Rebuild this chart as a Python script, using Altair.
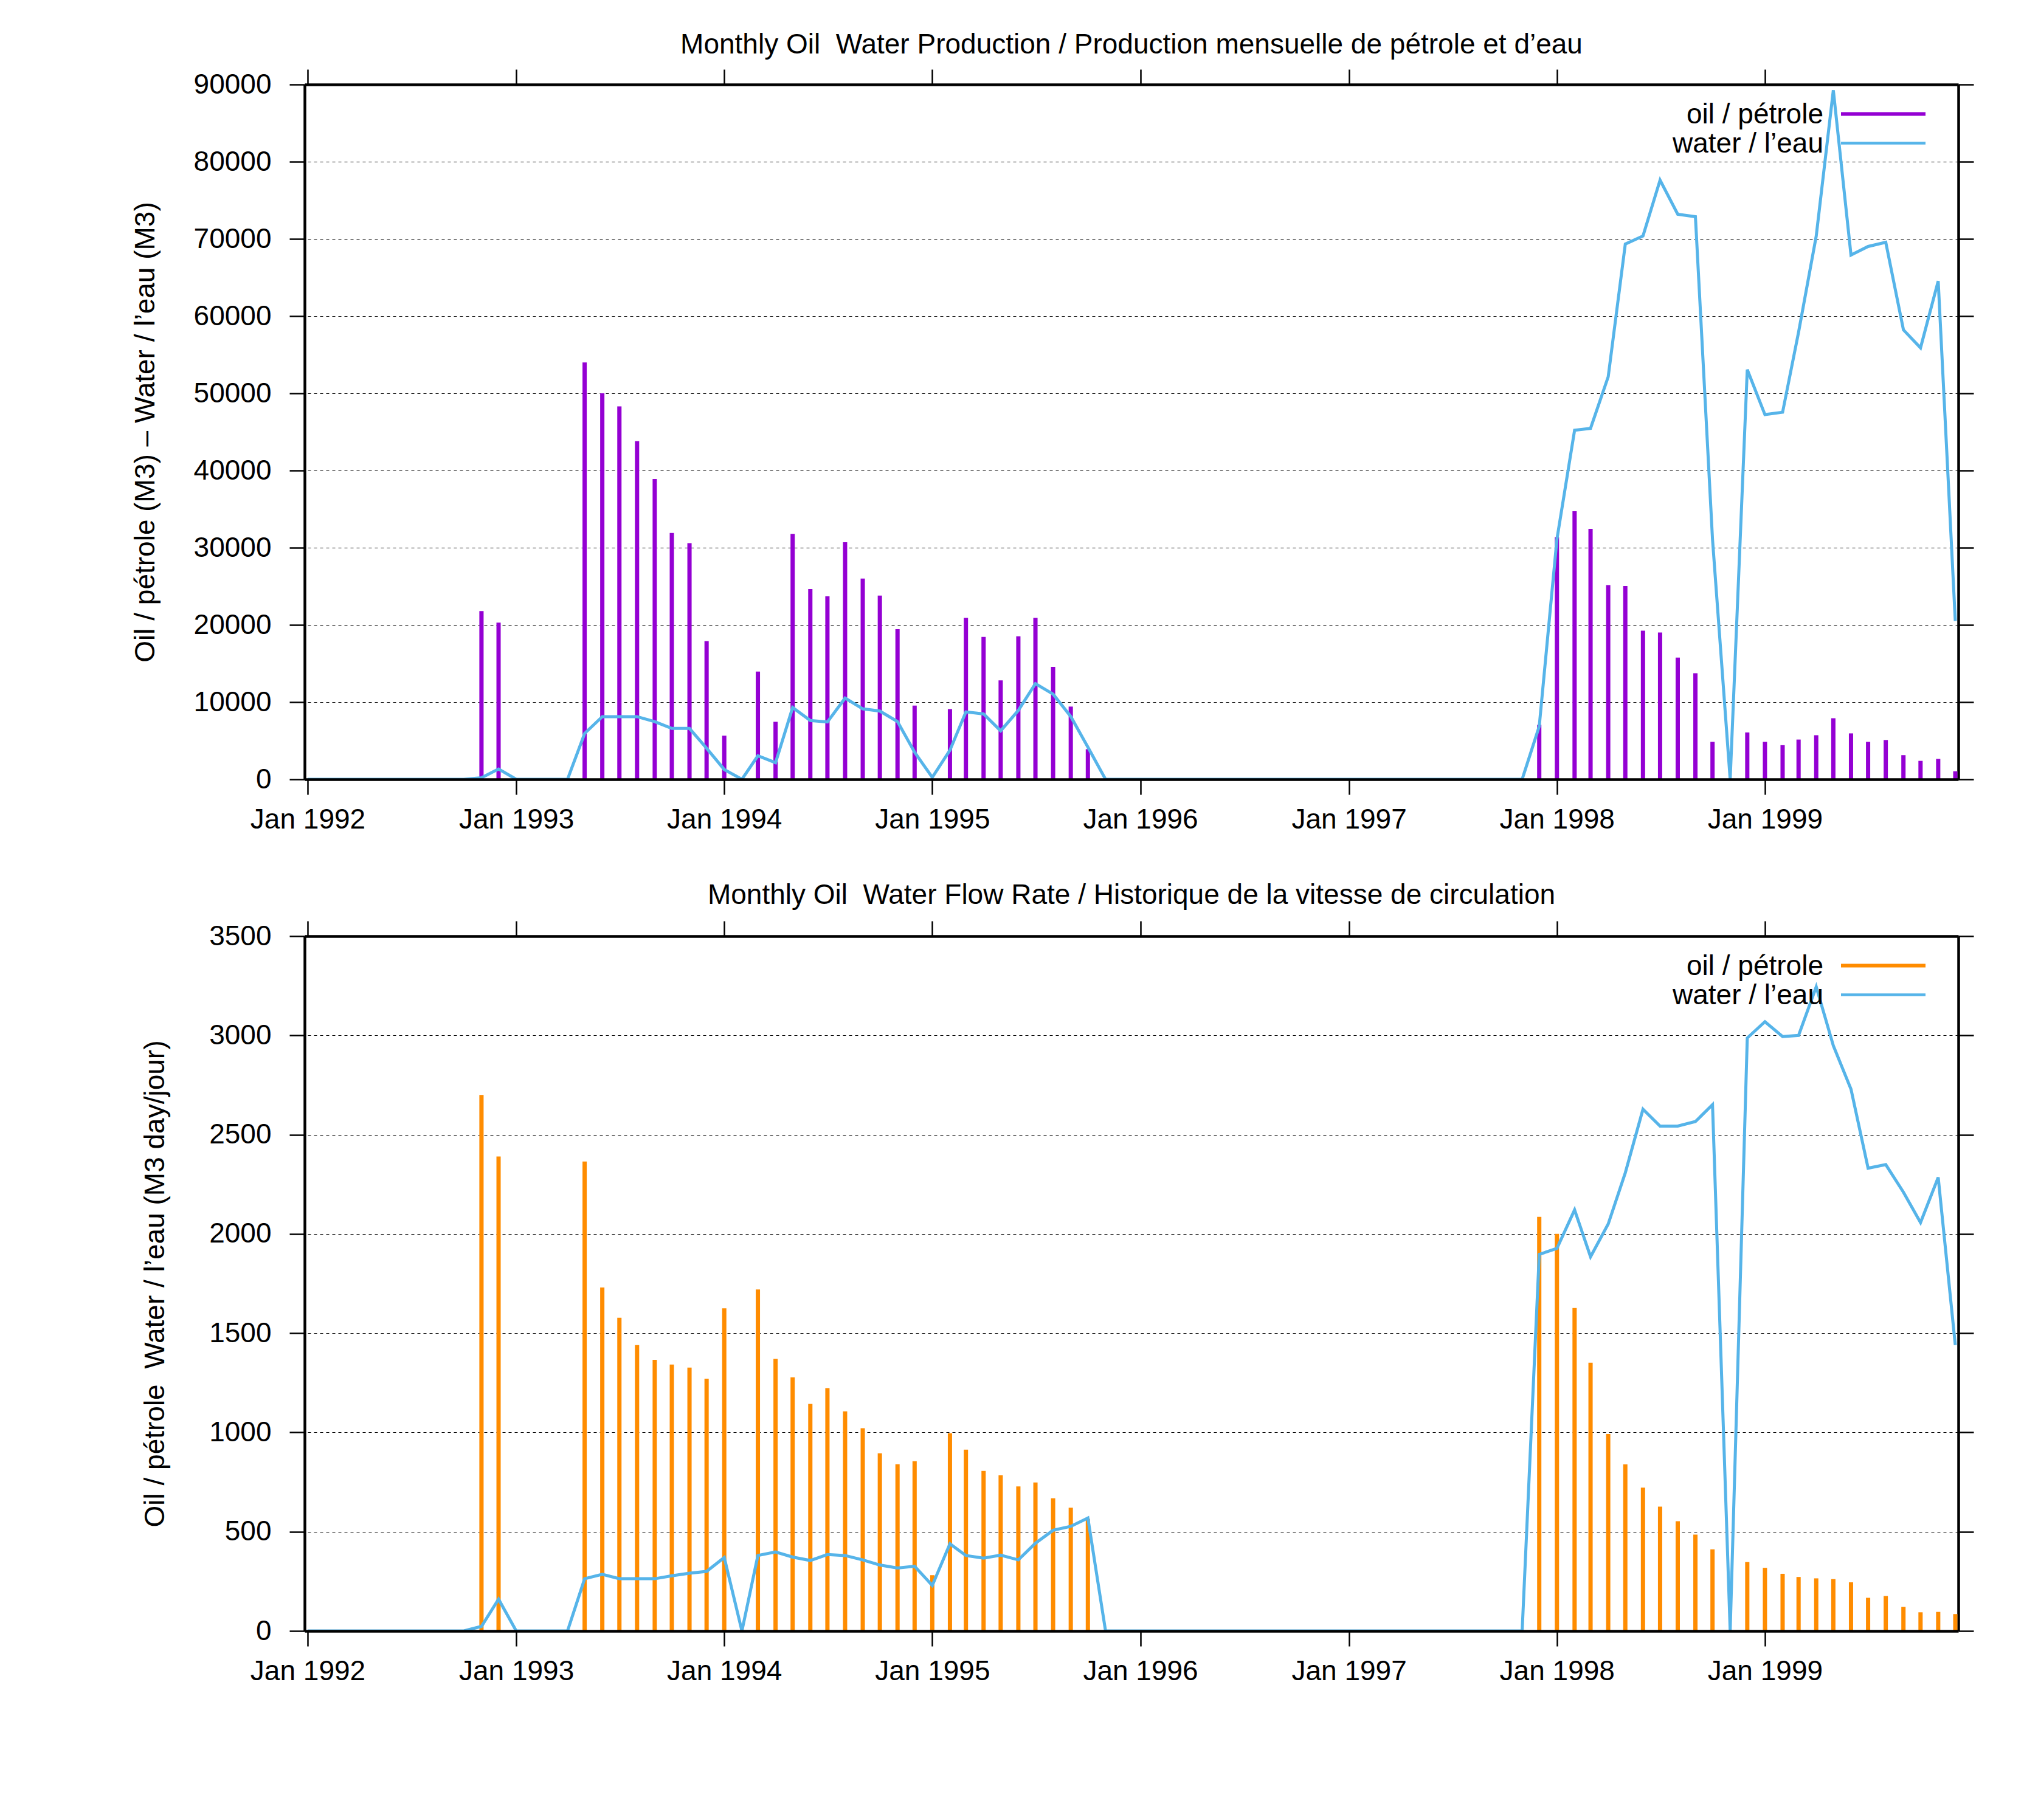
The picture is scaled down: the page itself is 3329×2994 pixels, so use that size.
import altair as alt
import pandas as pd

# ---------------- data (monthly, Jan 1992 .. Dec 1999) ----------------
months = pd.date_range("1992-01-01", periods=96, freq="MS").strftime("%Y-%m-%dT00:00:00").tolist()

oil_prod = (
    [0, 0, 0, 0, 0, 0, 0, 0, 0, 0, 21800, 20300]                                  # 1992
    + [0, 0, 0, 0, 54000, 50000, 48300, 43800, 38900, 31900, 30600, 17900]         # 1993
    + [5650, 0, 13950, 7450, 31800, 24650, 23700, 30700, 26000, 23800, 19450, 9550]  # 1994
    + [0, 9100, 20900, 18440, 12820, 18520, 20900, 14560, 9420, 3900, 0, 0]        # 1995
    + [0, 0, 0, 0, 0, 0, 0, 0, 0, 0, 0, 0]                                         # 1996
    + [0, 0, 0, 0, 0, 0, 0, 0, 0, 0, 0, 7060]                                      # 1997
    + [31350, 34720, 32450, 25150, 25030, 19260, 19020, 15770, 13740, 4850, 0, 6070]  # 1998
    + [4850, 4420, 5150, 5710, 7910, 5950, 4850, 5090, 3130, 2390, 2640, 1040]     # 1999
)

water_prod = (
    [0, 0, 0, 0, 0, 0, 0, 0, 0, 0, 200, 1340]
    + [0, 0, 0, 0, 5940, 8120, 8120, 8120, 7470, 6590, 6590, 4020]
    + [1265, 0, 3050, 2150, 9300, 7620, 7430, 10520, 9130, 8840, 7470, 3510]
    + [250, 3770, 8730, 8470, 6280, 8920, 12400, 11030, 8130, 4170, 0, 0]
    + [0, 0, 0, 0, 0, 0, 0, 0, 0, 0, 0, 0]
    + [0, 0, 0, 0, 0, 0, 0, 0, 0, 0, 0, 6870]
    + [31100, 45210, 45460, 52150, 69330, 70370, 77610, 73190, 72880, 31100, 0, 53070]
    + [47240, 47550, 57910, 70370, 89260, 67910, 69020, 69570, 58220, 55890, 64540, 20500]
)

oil_rate = (
    [0, 0, 0, 0, 0, 0, 0, 0, 0, 0, 2700, 2390]
    + [0, 0, 0, 0, 2365, 1730, 1578, 1440, 1366, 1342, 1327, 1271]
    + [1625, 0, 1720, 1370, 1278, 1144, 1223, 1106, 1021, 895, 840, 855]
    + [281, 996, 913, 806, 784, 728, 748, 668, 621, 565, 0, 0]
    + [0, 0, 0, 0, 0, 0, 0, 0, 0, 0, 0, 0]
    + [0, 0, 0, 0, 0, 0, 0, 0, 0, 0, 0, 2086]
    + [2000, 1627, 1351, 992, 839, 722, 626, 553, 485, 411, 0, 347]
    + [318, 288, 272, 265, 261, 245, 167, 176, 121, 94, 96, 85]
)

water_rate = (
    [0, 0, 0, 0, 0, 0, 0, 0, 0, 0, 23, 160]
    + [0, 0, 0, 0, 263, 285, 263, 263, 263, 278, 291, 300]
    + [370, 0, 380, 398, 372, 355, 385, 380, 358, 332, 317, 326]
    + [229, 439, 380, 367, 382, 358, 442, 507, 527, 569, 0, 0]
    + [0, 0, 0, 0, 0, 0, 0, 0, 0, 0, 0, 0]
    + [0, 0, 0, 0, 0, 0, 0, 0, 0, 0, 0, 1897]
    + [1927, 2121, 1885, 2050, 2308, 2628, 2543, 2543, 2566, 2651, 0, 2987]
    + [3069, 2994, 3000, 3245, 2948, 2729, 2331, 2349, 2210, 2057, 2285, 1440]
)

series_labels = ["oil / pétrole", "water / l\u2019eau"]

title_prod = "Monthly Oil\u00a0 Water Production / Production mensuelle de pétrole et d\u2019eau"
title_rate = "Monthly Oil\u00a0 Water Flow Rate / Historique de la vitesse de circulation"
ytitle_prod = "Oil / pétrole (M3) \u2013 Water / l\u2019eau (M3)"
ytitle_rate = "Oil / pétrole\u00a0 Water / l\u2019eau (M3 day/jour)"

df = pd.DataFrame({
    "date": months,
    "oil_prod": oil_prod,
    "water_prod": water_prod,
    "oil_rate": oil_rate,
    "water_rate": water_rate,
})

# ---------------- styling ----------------
FONT = "Liberation Sans"
FS = 46
W, H = 2720, 1143
PURPLE = "#9400D3"
BLUE = "#56B4E9"
ORANGE = "#FF8C00"

x_domain = [alt.DateTime(year=1992, month=1, date=1), alt.DateTime(year=1999, month=12, date=1)]
year_ticks = [alt.DateTime(year=y, month=1, date=1) for y in range(1992, 2000)]


def panel(oil_field, water_field, oil_color, ymax, ystep, ytitle, title, title_offset, ytitle_pad):
    xscale = alt.Scale(domain=x_domain, nice=False)
    yscale = alt.Scale(domain=[0, ymax], nice=False)
    yvals = list(range(0, ymax + 1, ystep))

    x_bottom = alt.Axis(orient="bottom", values=year_ticks, format="%b %Y", labelPadding=19,
                        labelFlush=False, labelOverlap=False, grid=False, title=None, zindex=1)
    x_top = alt.Axis(orient="top", values=year_ticks, labels=False, grid=False, title=None, zindex=1)
    y_left = alt.Axis(orient="left", values=yvals, format="d", labelPadding=30, grid=False,
                      title=ytitle, titlePadding=ytitle_pad, zindex=1)
    y_right = alt.Axis(orient="right", values=yvals, labels=False, grid=True, gridDash=[5, 5],
                       gridColor="black", gridWidth=1.2, title=None, zindex=0)

    base = alt.Chart(df)
    bars = base.mark_bar(size=7, color=oil_color, clip=True).encode(
        x=alt.X("date:T", scale=xscale, axis=x_bottom),
        y=alt.Y(f"{oil_field}:Q", scale=yscale, axis=y_left),
    )
    line = base.mark_line(color=BLUE, strokeWidth=5, clip=True).encode(
        x=alt.X("date:T", scale=xscale, axis=x_top),
        y=alt.Y(f"{water_field}:Q", scale=yscale, axis=y_right),
    )

    legend_layers = []
    legend_colors = [oil_color, BLUE]
    legend_widths = [6, 4.5]
    for i, lab in enumerate(series_labels):
        ldf = pd.DataFrame({"label": [lab]})
        txt = alt.Chart(ldf).mark_text(align="right", baseline="middle", font=FONT,
                                       fontSize=FS, color="black").encode(
            x=alt.value(2498), y=alt.value(50 + 48 * i), text="label:N")
        rl = alt.Chart(ldf).mark_rule(color=legend_colors[i], strokeWidth=legend_widths[i]).encode(
            x=alt.value(2527), x2=alt.value(2666), y=alt.value(48.5 + 48 * i))
        legend_layers += [txt, rl]

    return alt.layer(bars, line, *legend_layers).resolve_axis(
        x="independent", y="independent"
    ).properties(
        width=W, height=H,
        title=alt.TitleParams(text=title, offset=title_offset, baseline="alphabetic", frame="group",
                              anchor="middle", font=FONT, fontSize=FS, fontWeight="normal",
                              color="black"),
    )


top = panel("oil_prod", "water_prod", PURPLE, 90000, 10000, ytitle_prod, title_prod, -21, 55)
bottom = panel("oil_rate", "water_rate", ORANGE, 3500, 500, ytitle_rate, title_rate, -19, 64)

chart = alt.vconcat(top, bottom, spacing=77).properties(
    padding={"left": 207, "top": 42, "right": 20, "bottom": 20}
).configure(
    background="white"
).configure_view(
    stroke="transparent"
).configure_axis(
    domainColor="black", domainWidth=4.5,
    tickColor="black", tickWidth=2.5, tickSize=25,
    labelFont=FONT, labelFontSize=FS, labelColor="black", labelLimit=400,
    titleFont=FONT, titleFontSize=FS, titleColor="black", titleFontWeight="normal",
)

chart.save("out.html", embed_options={"renderer": "svg", "actions": False})
